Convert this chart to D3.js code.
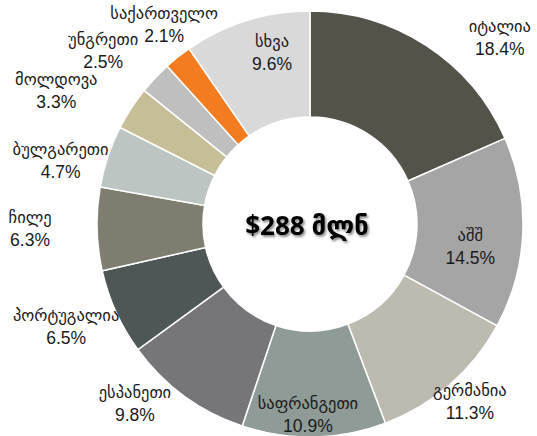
<!DOCTYPE html>
<html>
<head>
<meta charset="utf-8">
<script src="https://cdn.jsdelivr.net/npm/d3@7"></script>
<style>
  body { margin: 0; background: #fff; }
  svg text { font-family: "Liberation Sans", Arial, "DejaVu Sans", sans-serif; fill: #1a1a1a; }
</style>
</head>
<body>
<div id="chart"></div>
<script>
// clockwise from 12 o'clock
const countries = ["იტალია","აშშ","გერმანია","საფრანგეთი","ესპანეთი","პორტუგალია","ჩილე","ბულგარეთი","მოლდოვა","უნგრეთი","საქართველო","სხვა"];
const shares = [18.4, 14.5, 11.3, 10.9, 9.8, 6.5, 6.3, 4.7, 3.3, 2.5, 2.1, 9.6];
const colors = ["#54534a","#a5a5a5","#bdbab0","#8e9b97","#767577","#4f5756","#7e7d70","#bdc5c2","#c6be96","#bfbfbf","#f47c20","#d9d9d9"];
const totalLabel = "$288 მლნ";

// label placement: distance from centre and angular nudge (deg) per slice
const labelR = [265, 162, 240, 192, 252, 265, 280, 257, 286, 269, 246, 174];
const labelNudge = [12.6, 6, -0.7, 1.7, 7.8, 1.4, 0.2, -4.5, -5.4, -3.6, 2, 4.7];

const W = 537, H = 436;
const cx = 310, cy = 224, R = 213, r0 = 107;

const data = countries.map((c, i) => ({name: c, value: shares[i], color: colors[i], lr: labelR[i], nudge: labelNudge[i]}));

const svg = d3.select("#chart").append("svg").attr("width", W).attr("height", H);

const defs = svg.append("defs");
const f = defs.append("filter").attr("id", "shadow").attr("x", "-20%").attr("y", "-20%").attr("width", "140%").attr("height", "160%");
f.append("feDropShadow").attr("dx", 1.5).attr("dy", 2).attr("stdDeviation", 1.2).attr("flood-color", "#000").attr("flood-opacity", 0.45);

const g = svg.append("g").attr("transform", `translate(${cx},${cy})`);

const pie = d3.pie().sort(null).value(d => d.value);
const arc = d3.arc().innerRadius(r0).outerRadius(R);
const arcs = pie(data);

g.selectAll("path.slice").data(arcs).join("path")
  .attr("class", "slice")
  .attr("d", arc)
  .attr("fill", d => d.data.color)
  .attr("stroke", "#fff")
  .attr("stroke-width", 1.5);

const lbl = g.selectAll("g.lbl").data(arcs).join("g")
  .attr("class", "lbl")
  .attr("transform", d => {
    const a = (d.startAngle + d.endAngle) / 2 + d.data.nudge * Math.PI / 180;
    return `translate(${Math.sin(a) * d.data.lr},${-Math.cos(a) * d.data.lr})`;
  });

lbl.append("text").attr("text-anchor", "middle").attr("y", -7).style("font-size", "16.5px").text(d => d.data.name);
lbl.append("text").attr("text-anchor", "middle").attr("y", 16).style("font-size", "17.5px").text(d => d.data.value.toFixed(1) + "%");

g.append("text")
  .attr("text-anchor", "middle")
  .attr("x", -3).attr("y", 11)
  .attr("filter", "url(#shadow)")
  .style("font-family", "'Open Sans', 'DejaVu Sans', sans-serif")
  .style("font-weight", "bold")
  .style("font-size", "26px")
  .style("fill", "#000")
  .text(totalLabel);
</script>
</body>
</html>
